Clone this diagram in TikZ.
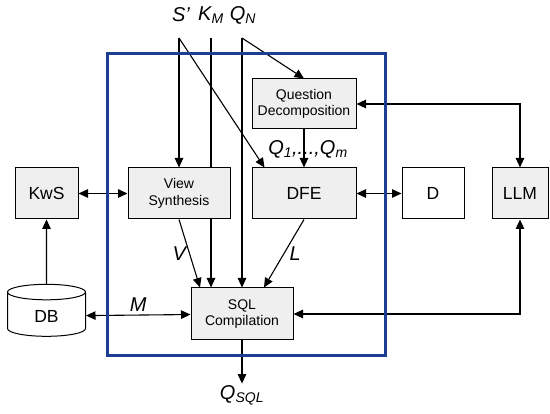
\documentclass[tikz,border=0pt]{standalone}
\usepackage{fontspec}
\setmainfont{Liberation Sans}
\usepackage{xcolor}
\usetikzlibrary{shapes.geometric, arrows.meta}
\usetikzlibrary{calc,positioning}
\definecolor{boxgray}{HTML}{EFEFEF}
\definecolor{frameblue}{HTML}{1C3F94}

\begin{document}
\begin{tikzpicture}[x=1pt,y=-1pt,>={Triangle[length=9.5pt,width=8.5pt]},line width=1.1pt,
  box/.style={draw,line width=1pt,fill=boxgray,align=center,minimum height=51pt,inner sep=1pt,font=\fontsize{14}{16.5}\selectfont},
  bigtext/.style={font=\fontsize{17.5}{20}\selectfont},
  lab/.style={font=\fontsize{20}{22}\selectfont\itshape,inner sep=1pt}]
\useasboundingbox (0,0) rectangle (550,414);

\node[box,bigtext,minimum width=63pt] (kws) at (46.5,193.5) {KwS};
\node[box,minimum width=102pt] (vs) at (179,193.5) {View\\Synthesis};
\node[box,bigtext,minimum width=104pt] (dfe) at (304,193.5) {DFE};
\node[box,bigtext,fill=white,minimum width=62pt] (d) at (433,193.5) {D};
\node[box,bigtext,minimum width=56pt] (llm) at (520,193.5) {LLM};
\node[box,minimum width=104pt,minimum height=50pt] (qd) at (304,104) {Question\\Decomposition};
\node[box,minimum width=102pt,minimum height=52pt] (sql) at (242,314) {SQL\\Compilation};
\node[draw,line width=1pt,cylinder,shape border rotate=90,aspect=0.5,minimum width=78pt,minimum height=52pt,bigtext] (db) at (46.5,316) {DB};

\node[lab] (sp) at (181,15) {S'};
\node[lab] (km) at (211,15) {K\textsubscript{M}};
\node[lab] (qn) at (243,15) {Q\textsubscript{N}};
\node[lab] (qsql) at (242,395) {Q\textsubscript{SQL}};
\node[lab] (qs) at (308,149) {Q\textsubscript{1},...,Q\textsubscript{m}};
\coordinate (sTop) at (179,38);
\coordinate (kTop) at (211,38);
\coordinate (qTop) at (242,38);

\draw[->] (sTop) -- (sTop |- vs.north);
\draw[->] (sTop) -- ($(dfe.north west)+(13,0)$);
\draw (kTop) -- (kTop |- vs.north);
\draw[->] (kTop |- vs.south) -- (kTop |- sql.north);
\draw[->] (qTop) -- (qTop |- sql.north);
\draw[->] (qTop) -- (qd.north);
\draw[->] (qd) -- (dfe);
\draw[->] (vs.south) -- ($(sql.north)+(-42,0)$) node[lab,midway,left=2pt] (v) {V};
\draw[->] (dfe.south) -- ($(sql.north)+(22,0)$) node[lab,midway,right=4pt] (l) {L};
\draw[<->] (kws) -- (vs);
\draw[<->] (dfe) -- (d);
\draw[->] (db) -- (kws);
\draw[<->] (db) -- (sql) node[lab,midway,above=2pt] (m) {M};
\draw[<->] (qd.east) -| (llm.north);
\draw[<->] (llm.south) |- (sql.east);
\draw[->] (sql) -- (qsql);

\draw[frameblue,line width=3pt] (107,54) rectangle (385,356);
\end{tikzpicture}
\end{document}
